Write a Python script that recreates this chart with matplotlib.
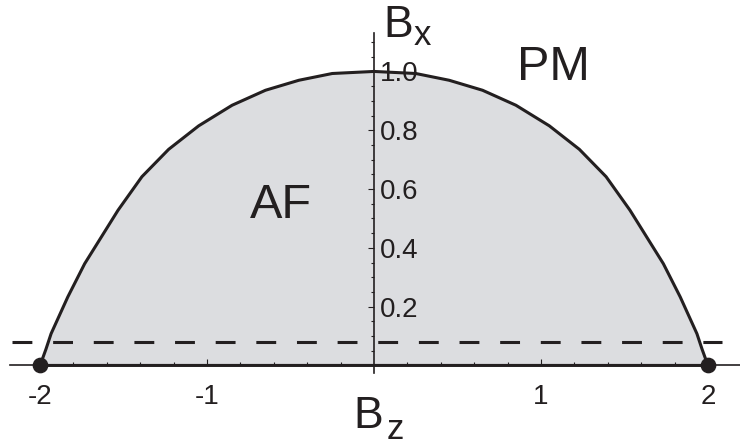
import numpy as np
import matplotlib
matplotlib.use("Agg")
import matplotlib.pyplot as plt

plt.rcParams['font.family'] = ['Liberation Sans', 'DejaVu Sans']

# phase boundary B_x(B_z) (the curve is symmetric)
bz_curve = [-2.0, -1.965, -1.934, -1.834, -1.733, -1.633, -1.533, -1.39, -1.23,
            -1.05, -0.85, -0.65, -0.45, -0.25, 0.0, 0.25, 0.45, 0.65, 0.85, 1.05,
            1.23, 1.39, 1.533, 1.633, 1.733, 1.834, 1.934, 1.965, 2.0]
bx_curve = [0.0, 0.055, 0.108, 0.233, 0.346, 0.437, 0.528, 0.642, 0.735,
            0.815, 0.885, 0.936, 0.970, 0.993, 1.0, 0.993, 0.970, 0.936, 0.885, 0.815,
            0.735, 0.642, 0.528, 0.437, 0.346, 0.233, 0.108, 0.055, 0.0]

critical_bz = [-2, 2]       # end points on the B_z axis
dashed_bx = 0.08            # dashed reference level

x_major = [-2, -1, 1, 2]
x_labels = ['-2', '-1', '1', '2']
x_minor = [-1.8, -1.6, -1.4, -1.2, -0.8, -0.6, -0.4, -0.2,
           0.2, 0.4, 0.6, 0.8, 1.2, 1.4, 1.6, 1.8]
y_major = [0.2, 0.4, 0.6, 0.8, 1.0]
y_labels = ['0.2', '0.4', '0.6', '0.8', '1.0']
y_minor = [0.05, 0.1, 0.15, 0.25, 0.3, 0.35, 0.45, 0.5, 0.55, 0.65, 0.7, 0.75,
           0.85, 0.9, 0.95, 1.05, 1.1]

ink = '#231f20'
fill_col = '#dcdde0'

fig = plt.figure(figsize=(7.4, 4.46), dpi=100)
ax = fig.add_axes([0, 0, 1, 1])
ax.set_facecolor('none')
ax.set_xlim(-2.240, 2.192)
ax.set_ylim(-0.274, 1.243)

# shaded AF region and its border
ax.fill(bz_curve, bx_curve, color=fill_col, lw=0, zorder=1)
ax.fill(bz_curve, bx_curve, facecolor='none', edgecolor=ink, lw=2.2,
        joinstyle='round', zorder=3)
ax.plot([-2.17, 2.085], [dashed_bx, dashed_bx], color=ink, lw=2.2,
        dashes=(6.5, 6.8), zorder=3)
ax.plot(critical_bz, [0, 0], 'o', color=ink, ms=10.3, zorder=4)

# axes through the origin
for s in ['top', 'left']:
    ax.spines[s].set_visible(False)
ax.spines['bottom'].set_position(('data', 0))
ax.spines['right'].set_position(('data', 0))
ax.spines['bottom'].set_bounds(-2.18, 2.192)
ax.spines['right'].set_bounds(-0.025, 1.13)
for s in ['bottom', 'right']:
    ax.spines[s].set_linewidth(1.2)
    ax.spines[s].set_color(ink)
ax.yaxis.set_ticks_position('right')

ax.set_xticks(x_major, labels=x_labels)
ax.set_xticks(x_minor, minor=True)
ax.set_yticks(y_major, labels=y_labels)
ax.set_yticks(y_minor, minor=True)
ax.tick_params(which='both', direction='in', color=ink, width=0.8,
               labelsize=20, labelcolor=ink)
ax.tick_params(which='major', length=4)
ax.tick_params(which='minor', length=2.4)
ax.tick_params(axis='x', pad=13.5)
ax.tick_params(axis='y', pad=4.3)

# axis names and phase labels
ax.text(0.056, 1.116, 'B', fontsize=32, color=ink)
ax.text(0.24, 1.090, 'x', fontsize=25, color=ink)
ax.text(-0.123, -0.2136, 'B', fontsize=32, color=ink)
ax.text(0.078, -0.2725, 'z', fontsize=25, color=ink, va='bottom')
ax.text(-0.743, 0.502, 'AF', fontsize=35, color=ink)
ax.text(0.855, 0.971, 'PM', fontsize=35, color=ink)

fig.savefig('out.png', dpi=100)
